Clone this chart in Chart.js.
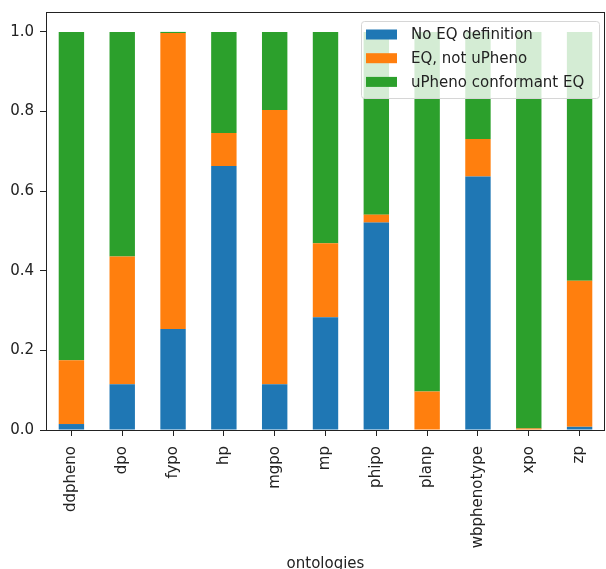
<!DOCTYPE html>
<html>
<head>
<meta charset="utf-8">
<script src="https://cdn.jsdelivr.net/npm/chart.js@4.4.1/dist/chart.umd.min.js"></script>
<style>
  body { margin: 0; background: #fff; }
  #wrap { width: 606px; height: 569px; }
</style>
</head>
<body>
<div id="wrap"><canvas id="chart" width="606" height="569"></canvas></div>
<script>
// Share of terms per ontology

const categories = ['ddpheno', 'dpo', 'fypo', 'hp', 'mgpo', 'mp', 'phipo', 'planp', 'wbphenotype', 'xpo', 'zp'];

const noEqDefinition = [0.015, 0.115, 0.254, 0.663, 0.115, 0.283, 0.521, 0.000, 0.637, 0.000, 0.008];
const eqNotUpheno    = [0.160, 0.321, 0.743, 0.083, 0.689, 0.186, 0.020, 0.097, 0.094, 0.004, 0.367];
const uphenoEq       = [0.825, 0.564, 0.003, 0.254, 0.196, 0.531, 0.459, 0.903, 0.269, 0.996, 0.625];

const yTicks = [0, 0.2, 0.4, 0.6, 0.8, 1.0];

const seriesLabels = ['No EQ definition', 'EQ, not uPheno', 'uPheno conformant EQ'];
const seriesColors = ['#1f77b4', '#ff7f0e', '#2ca02c'];

const FONT = 'DejaVu Sans';
const FONT_SIZE = 15;
const TEXT = '#222';

// box around the axes (matplotlib style spines)
const framePlugin = {
  id: 'frame',
  afterDraw(chart) {
    const { ctx, chartArea: a } = chart;
    ctx.save();
    ctx.strokeStyle = '#222';
    ctx.lineWidth = 1;
    ctx.strokeRect(a.left + 0.5, a.top + 0.5, a.right - a.left - 1, a.bottom - a.top);
    ctx.restore();
  }
};

// legend drawn inside the plot, upper right, semi transparent like matplotlib
const insideLegend = {
  id: 'insideLegend',
  afterDatasetsDraw(chart) {
    const { ctx, chartArea: a } = chart;
    const w = 238, h = 77;
    const x = a.right - 6 - w, y = a.top + 9;
    ctx.save();
    ctx.beginPath();
    ctx.roundRect(x + 0.5, y + 0.5, w, h, 3);
    ctx.fillStyle = 'rgba(255,255,255,0.8)';
    ctx.fill();
    ctx.strokeStyle = '#d6d6d6';
    ctx.lineWidth = 1;
    ctx.stroke();

    ctx.font = FONT_SIZE + 'px "' + FONT + '"';
    ctx.textBaseline = 'middle';
    ctx.textAlign = 'left';
    chart.data.datasets.forEach((ds, i) => {
      const cy = y + 13.5 + i * 23.7;
      ctx.fillStyle = ds.backgroundColor;
      ctx.fillRect(x + 5, cy - 5, 31, 10);
      ctx.fillStyle = TEXT;
      ctx.fillText(ds.label, x + 50, cy + 1);
    });
    ctx.restore();
  }
};

const datasets = [noEqDefinition, eqNotUpheno, uphenoEq].map((values, i) => ({
  label: seriesLabels[i],
  data: values,
  backgroundColor: seriesColors[i],
  borderWidth: 0,
  categoryPercentage: 1.0,
  barPercentage: 0.5
}));

new Chart(document.getElementById('chart'), {
  type: 'bar',
  data: { labels: categories, datasets: datasets },
  options: {
    responsive: false,
    animation: false,
    layout: { padding: { top: 12, right: 1, left: 0, bottom: 0 } },
    plugins: {
      legend: { display: false },
      tooltip: { enabled: false }
    },
    scales: {
      x: {
        stacked: true,
        grid: { drawOnChartArea: false, drawTicks: true, tickLength: 6, color: '#222', offset: false },
        border: { display: false },
        ticks: {
          color: TEXT,
          font: { family: FONT, size: FONT_SIZE },
          minRotation: 90,
          maxRotation: 90,
          padding: 10,
          autoSkip: false
        },
        title: {
          display: true,
          text: 'ontologies',
          color: TEXT,
          font: { family: FONT, size: FONT_SIZE },
          padding: { top: 0, bottom: -4 }
        },
        afterFit(scale) {
          scale.height = 139;
          scale.paddingLeft = 0;
          scale.paddingRight = 0;
        }
      },
      y: {
        stacked: true,
        min: 0,
        max: 1.05,
        grid: { drawOnChartArea: false, drawTicks: true, tickLength: 6, color: '#222' },
        border: { display: false },
        afterBuildTicks(scale) { scale.ticks = yTicks.map(v => ({ value: v })); },
        ticks: {
          color: TEXT,
          font: { family: FONT, size: FONT_SIZE },
          padding: 6,
          callback: (v) => v.toFixed(1)
        },
        afterFit(scale) {
          scale.width = 46;
          scale.paddingTop = 0;
          scale.paddingBottom = 0;
        }
      }
    }
  },
  plugins: [insideLegend, framePlugin]
});
</script>
</body>
</html>
